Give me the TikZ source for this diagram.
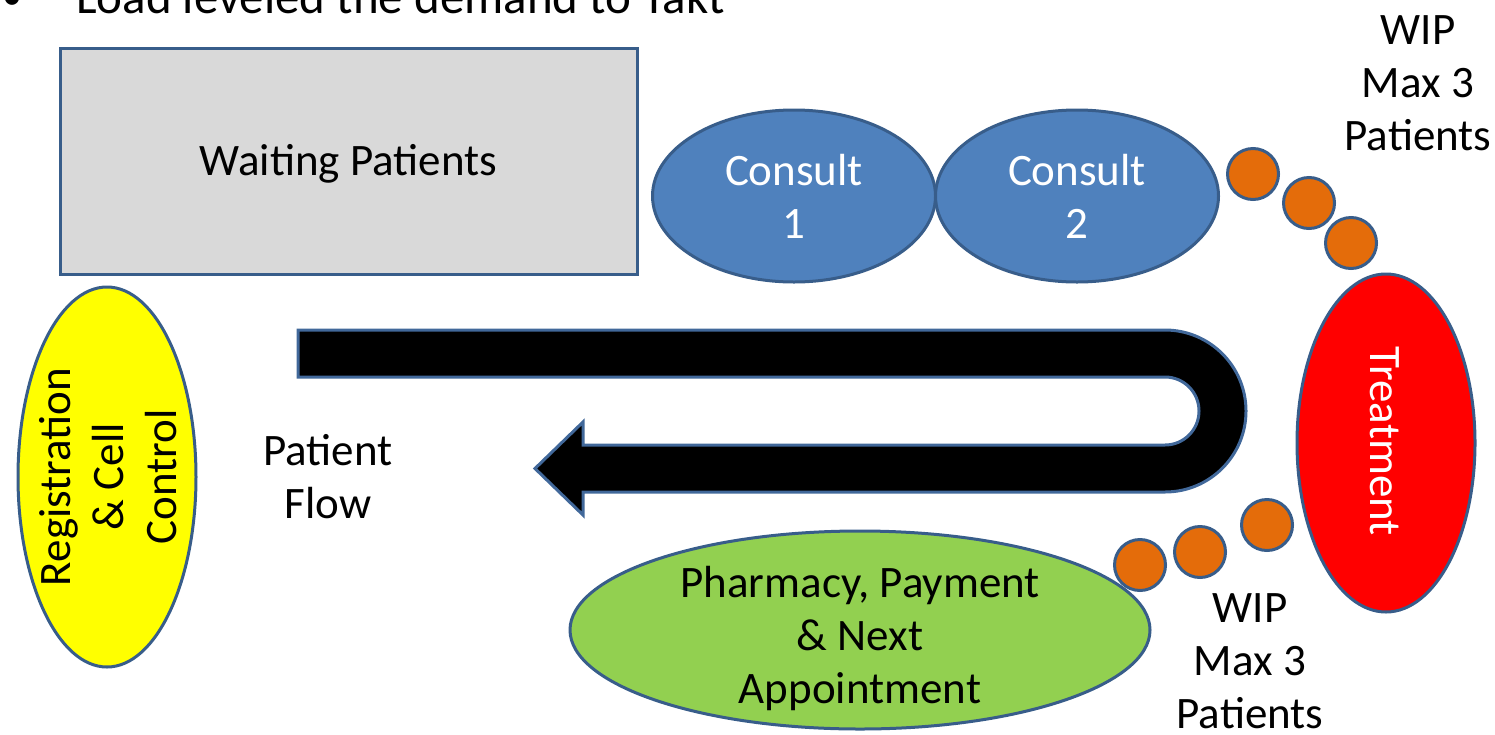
\documentclass[tikz,border=0pt]{standalone}
\usepackage{fontspec}
\setmainfont{Carlito}
\usetikzlibrary{shapes.geometric}

\definecolor{edgeblue}{HTML}{385D8A}
\definecolor{arrowedge}{HTML}{41689A}
\definecolor{consultblue}{HTML}{4F81BD}
\definecolor{waitgray}{HTML}{D9D9D9}
\definecolor{wiporange}{HTML}{E46C0A}
\definecolor{regyellow}{HTML}{FFFF00}
\definecolor{treatred}{HTML}{FF0000}
\definecolor{pharmgreen}{HTML}{92D050}

\begin{document}
\begin{tikzpicture}[x=1pt,y=-1pt,
  txt/.style={font=\fontsize{45}{53}\selectfont, align=center, inner sep=0pt},
  station/.style={ellipse, draw=edgeblue, line width=3pt, inner sep=0pt},
  wip/.style={circle, draw=edgeblue, line width=3pt, fill=wiporange,
              minimum size=51pt, inner sep=0pt},
  flowarrow/.style={draw=arrowedge, line width=3pt, fill=black}]
\useasboundingbox (0,0) rectangle (1495,734);

% heading line
\node[anchor=base, inner sep=0pt, font=\fontsize{40}{48}\selectfont] (bullet) at (12,9) {•};
\node[anchor=base west, inner sep=0pt, font=\fontsize{49}{59}\selectfont] (title) at (76,13) {Load leveled the demand to Takt};

% waiting area
\node[draw=edgeblue, fill=waitgray, line width=3pt, minimum width=577pt,
      minimum height=226pt, inner sep=0pt] (wait) at (348.5,161) {};
\node[txt] (waitt) at (348.5,164) {Waiting Patients};

% consult rooms
\node[station, fill=consultblue, minimum width=283pt, minimum height=172pt] (c1) at (794,196) {};
\node[txt, text=white] (c1t) at (c1) {Consult\\1};
\node[station, fill=consultblue, minimum width=283pt, minimum height=172pt] (c2) at (1077,196) {};
\node[txt, text=white] (c2t) at (c2) {Consult\\2};

% WIP buffer before treatment
\node[wip] (w1) at (1253,174) {};
\node[wip] (w2) at (1309,203) {};
\node[wip] (w3) at (1351,243) {};
\node[txt] (wipa) at (1418,83) {WIP\\Max 3\\Patients};

% treatment
\node[station, fill=treatred, minimum width=178pt, minimum height=338pt] (treat) at (1386,443) {};
\node[txt, text=white, rotate=-90] (treatt) at (1385,441) {Treatment};

% WIP buffer after treatment
\node[wip] (w4) at (1267,525) {};
\node[wip] (w5) at (1200,552) {};
\node[wip] (w6) at (1140,565) {};
\node[txt] (wipb) at (1250,661) {WIP\\Max 3\\Patients};

% pharmacy and payment
\node[station, fill=pharmgreen, minimum width=580pt, minimum height=198pt] (pharm) at (860,630) {};
\node[txt] (pharmt) at (860,638) {Pharmacy, Payment\\\& Next\\Appointment};

% registration
\node[station, fill=regyellow, minimum width=178pt, minimum height=380pt] (reg) at (107,477) {};
\node[txt, rotate=90] (regt) at (108,477) {Registration\\\& Cell\\Control};

% patient flow U-arrow
\draw[flowarrow] (298,330) -- (1165,330)
  arc[start angle=90, end angle=-90, radius=81pt]
  -- (583,492) -- (583,515) -- (535,468.5) -- (583,422) -- (583,445) -- (1165,445)
  arc[start angle=-90, end angle=90, radius=34pt]
  -- (298,377) -- cycle;
\node[txt] (flow) at (328,477) {Patient\\Flow};
\end{tikzpicture}
\end{document}
